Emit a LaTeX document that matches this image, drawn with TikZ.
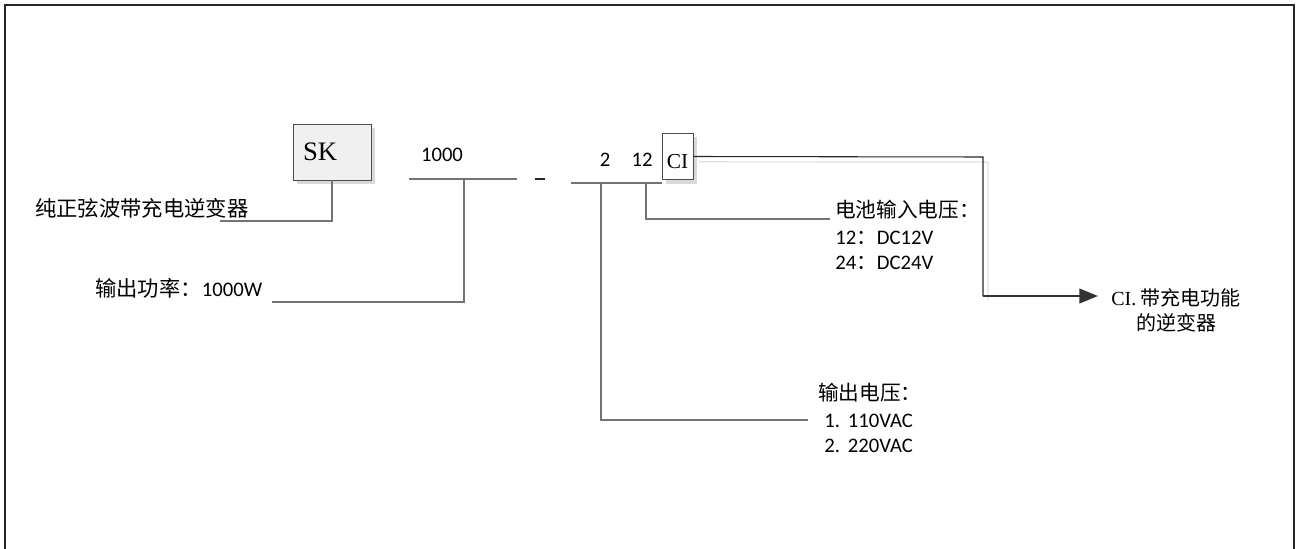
\documentclass[tikz,border=0pt]{standalone}
\usepackage{fontspec}
\setmainfont{Carlito}
\newfontfamily\cjk{Noto Sans CJK SC}
\newfontfamily\serifx{Liberation Serif}
\usetikzlibrary{arrows.meta,shadows}
\begin{document}
\begin{tikzpicture}[x=0.75pt,y=-0.75pt,
  frame/.style={draw=black!85,line width=1.6pt},
  conn/.style={draw=black!55,line width=0.9pt},
  darkconn/.style={draw=black!85,line width=0.8pt},
  shade/.style={draw=black!12,line width=0.9pt},
  boxx/.style={draw=black!70,line width=0.7pt,drop shadow={shadow xshift=3pt,shadow yshift=-3pt,fill=black!25,opacity=0.6}},
  lab/.style={inner sep=0pt,font=\fontsize{15.5}{18}\selectfont},
  cjklab/.style={inner sep=0pt,font=\cjk\fontsize{16}{19}\selectfont},
  cjksmall/.style={inner sep=0pt,font=\fontsize{15.5}{18.75}\selectfont},
  arr/.style={draw=black!80,line width=1.5pt,-{Triangle[length=14pt,width=11pt]}}]
\useasboundingbox (0,0) rectangle (1298,549);
\draw[frame] (5,552) -- (5,5) -- (1294,5) -- (1294,552);

% SK box
\node[boxx,fill=black!6,minimum width=58.5pt,minimum height=42pt,text width=43.5pt,inner xsep=7.5pt,align=left,font=\serifx\fontsize{20}{24}\selectfont] (SK) at (332,152) {SK};
\node[cjklab,anchor=west] (t1) at (35,208) {纯正弦波带充电逆变器};
\coordinate (sk1) at (220,221);
\draw[conn] (SK.south) |- (sk1);

% 1000
\node[lab] (n1000) at (442,155) {1000};
\coordinate (u1a) at (409,179);
\coordinate (u1b) at (517,179);
\coordinate (u1m) at (464,179);
\coordinate (p1) at (272,302);
\draw[conn] (u1a) -- (u1b);
\draw[conn] (u1m) |- (p1);
\node[lab,anchor=west] (t2) at (95,288) {{\cjk\fontsize{16}{19}\selectfont 输出功率：}1000W};

% dash
\node[inner sep=0pt] (dash) at (540,179) {\color{black!85}\rule{7.5pt}{0.9pt}};

% 2 12 CI
\node[lab] (n2) at (605,160) {2};
\node[lab] (n12) at (642,160) {12};
\node[boxx,fill=white,minimum width=23.25pt,inner xsep=0pt,inner ysep=0pt,text height=26.5pt,text depth=8pt,font=\serifx\fontsize{16}{18}\selectfont] (CI) at (677.5,156.5) {CI};
\coordinate (u2a) at (571,183);
\coordinate (u2b) at (662,183);
\draw[conn] (u2a) -- (u2b);

% output voltage
\coordinate (v2top) at (601,183);
\coordinate (v2end) at (808,420);
\draw[conn] (v2top) |- (v2end);
\node[cjksmall,anchor=west] (ov) at (818,393) {\cjk 输出电压：};
\node[cjksmall,anchor=west] (ov1) at (824,421) {1.\hspace{6pt}110VAC};
\node[cjksmall,anchor=west] (ov2) at (824,446) {2.\hspace{6pt}220VAC};

% battery voltage
\coordinate (v12top) at (646,183);
\coordinate (v12end) at (830,219);
\draw[conn] (v12top) |- (v12end);
\node[cjksmall,anchor=west] (bv) at (835,210) {\cjk 电池输入电压：};
\node[cjksmall,anchor=west] (bv1) at (835,238) {12{\cjk ：}DC12V};
\node[cjksmall,anchor=west] (bv2) at (835,263) {24{\cjk ：}DC24V};

% CI connector
\coordinate (c1) at (983,157);
\coordinate (c2) at (983,296);
\coordinate (tip) at (1098,296);
\draw[shade] ([xshift=4pt,yshift=-4pt]CI.east) -- (988,162) -- (988,300);
\draw[darkconn] (CI.east) -- (c1) -- (c2);
\draw[arr] (c2) -- (tip);
\node[inner sep=0pt,align=center,font=\fontsize{15}{18.75}\selectfont] (ci2) at (1176,310) {{\serifx CI.} {\cjk 带充电功能}\\{\cjk 的逆变器}};
\end{tikzpicture}
\end{document}
